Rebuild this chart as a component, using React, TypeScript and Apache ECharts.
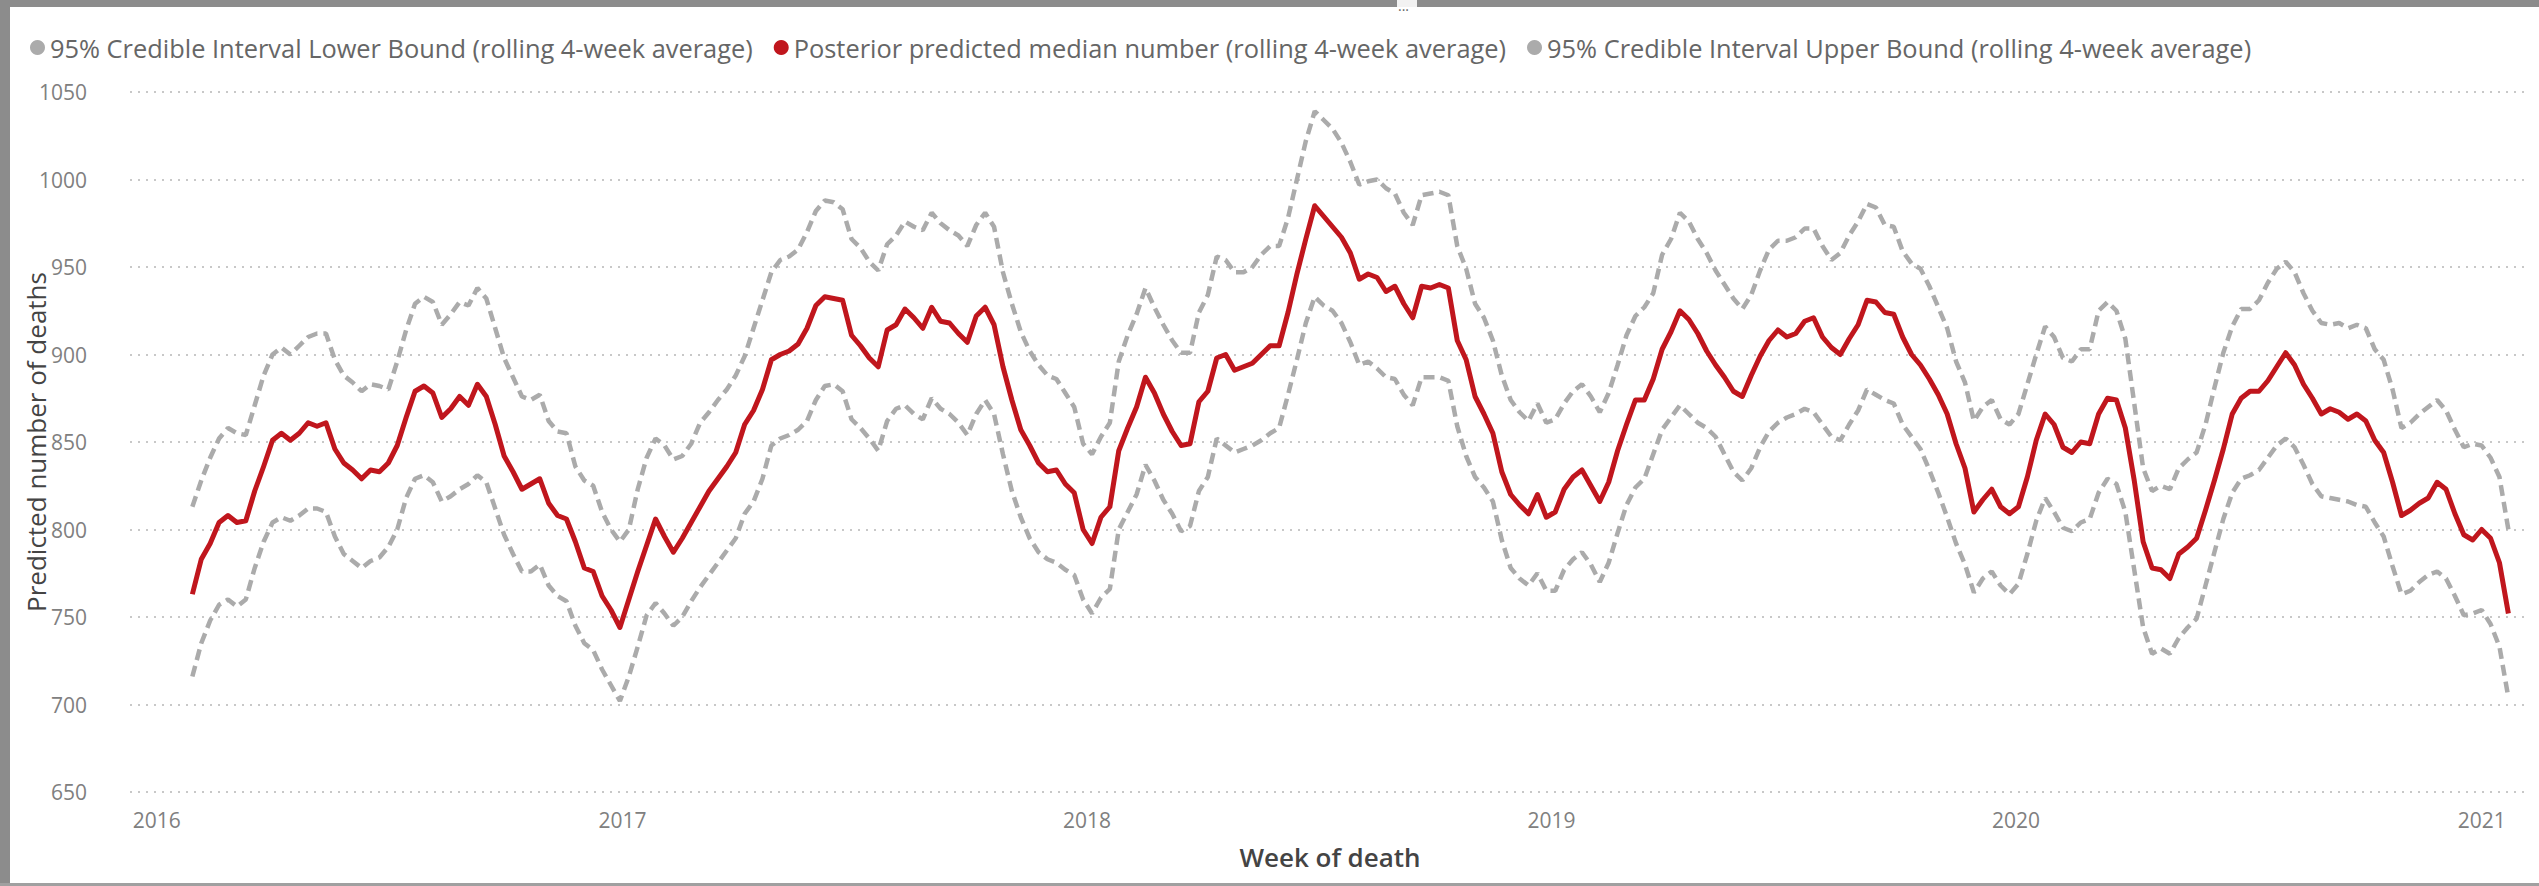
import React, { useEffect, useRef } from "react";
import * as echarts from "echarts";

// Weekly points: first week ending 2016-01-29, one value per week
const FIRST_WEEK = [2016, 0, 29];
const AXIS_START = [2015, 11, 11];
const AXIS_END = [2021, 1, 8];

const seriesNames = [
  "95% Credible Interval Lower Bound (rolling 4-week average)",
  "Posterior predicted median number (rolling 4-week average)",
  "95% Credible Interval Upper Bound (rolling 4-week average)",
];
const yTitle = "Predicted number of deaths";
const xTitle = "Week of death";
const yMin = 650;
const yMax = 1050;
const yStep = 50;

const lowerBound = [
  716, 735, 748, 757, 760, 756, 760, 778, 793, 804,
  807, 805, 808, 812, 812, 810, 796, 786, 782, 778,
  782, 784, 790, 800, 818, 829, 831, 827, 816, 819,
  823, 826, 831, 827, 812, 797, 786, 776, 776, 780,
  768, 762, 759, 745, 735, 731, 720, 711, 702, 716,
  733, 751, 758, 752, 745, 750, 759, 767, 774, 781,
  788, 795, 809, 816, 829, 848, 852, 854, 857, 862,
  874, 882, 883, 879, 863, 858, 852, 845, 862, 869,
  871, 866, 863, 875, 869, 866, 861, 854, 866, 874,
  866, 843, 822, 807, 795, 787, 783, 781, 777, 774,
  760, 752, 761, 766, 800, 810, 820, 837, 828, 817,
  809, 799, 802, 822, 830, 852, 848, 844, 846, 848,
  851, 855, 858, 877, 897, 918, 933, 928, 925, 918,
  907, 894, 896, 892, 887, 886, 877, 871, 887, 887,
  887, 885, 859, 842, 830, 824, 816, 794, 778, 772,
  768, 775, 765, 765, 777, 783, 787, 780, 770, 781,
  798, 814, 824, 829, 843, 857, 864, 871, 866, 861,
  858, 853, 843, 833, 828, 835, 847, 856, 861, 864,
  866, 869, 867, 860, 853, 851, 860, 868, 880, 877,
  874, 872, 860, 853, 846, 834, 821, 807, 792, 780,
  764, 772, 776, 768, 763, 769, 786, 805, 818, 810,
  801, 799, 804, 806, 821, 829, 826, 810, 777, 744,
  729, 732, 729, 738, 744, 749, 768, 787, 806, 821,
  829, 831, 834, 841, 848, 852, 847, 837, 826, 819,
  818, 817, 816, 814, 813, 804, 796, 779, 763, 765,
  770, 774, 776, 772, 762, 751, 752, 754, 746, 733,
  704,
];

const median = [
  763, 783, 792, 804, 808, 804, 805, 822, 836, 851,
  855, 851, 855, 861, 859, 861, 846, 838, 834, 829,
  834, 833, 838, 848, 864, 879, 882, 878, 864, 869,
  876, 871, 883, 876, 860, 842, 833, 823, 826, 829,
  815, 808, 806, 793, 778, 776, 762, 754, 744, 760,
  776, 791, 806, 796, 787, 795, 804, 813, 822, 829,
  836, 844, 860, 868, 880, 897, 900, 902, 906, 915,
  928, 933, 932, 931, 911, 905, 898, 893, 914, 917,
  926, 921, 915, 927, 919, 918, 912, 907, 922, 927,
  917, 893, 874, 857, 848, 838, 833, 834, 826, 821,
  800, 792, 807, 813, 845, 858, 870, 887, 878, 866,
  856, 848, 849, 873, 879, 898, 900, 891, 893, 895,
  900, 905, 905, 924, 946, 966, 985, 979, 973, 967,
  958, 943, 946, 944, 936, 939, 929, 921, 939, 938,
  940, 938, 908, 897, 876, 866, 855, 833, 820, 814,
  809, 820, 807, 810, 823, 830, 834, 825, 816, 827,
  845, 860, 874, 874, 886, 903, 913, 925, 920, 912,
  902, 894, 887, 879, 876, 888, 899, 908, 914, 910,
  912, 919, 921, 910, 904, 900, 909, 917, 931, 930,
  924, 923, 910, 900, 894, 886, 877, 866, 849, 835,
  810, 817, 823, 813, 809, 813, 830, 851, 866, 860,
  847, 844, 850, 849, 866, 875, 874, 858, 828, 793,
  778, 777, 772, 786, 790, 795, 811, 828, 846, 866,
  875, 879, 879, 885, 893, 901, 894, 883, 875, 866,
  869, 867, 863, 866, 862, 851, 844, 827, 808, 811,
  815, 818, 827, 823, 809, 797, 794, 800, 795, 781,
  752,
];

const upperBound = [
  813, 828, 841, 852, 858, 855, 854, 871, 888, 900,
  904, 900, 905, 910, 912, 912, 897, 888, 884, 879,
  883, 882, 880, 896, 914, 929, 933, 930, 917, 923,
  930, 928, 938, 932, 915, 898, 887, 876, 874, 877,
  862, 856, 855, 836, 828, 825, 810, 800, 793, 800,
  823, 841, 852, 848, 840, 842, 849, 861, 867, 874,
  880, 888, 899, 915, 931, 947, 954, 956, 960, 970,
  982, 988, 987, 983, 966, 961, 953, 948, 963, 968,
  976, 973, 971, 981, 975, 971, 968, 962, 974, 981,
  973, 947, 929, 913, 902, 894, 888, 886, 878, 870,
  849, 843, 853, 861, 896, 911, 923, 938, 927, 917,
  908, 901, 901, 924, 934, 956, 954, 947, 947, 950,
  957, 962, 962, 978, 1000, 1022, 1039, 1034, 1029, 1021,
  1010, 997, 999, 1000, 995, 992, 981, 974, 991, 992,
  993, 991, 962, 949, 929, 921, 908, 888, 874, 867,
  862, 872, 861, 863, 872, 879, 883, 876, 867, 878,
  894, 911, 922, 927, 935, 957, 966, 981, 976, 966,
  958, 948, 940, 932, 926, 934, 948, 960, 965, 965,
  967, 972, 972, 962, 954, 958, 968, 976, 986, 984,
  974, 973, 959, 952, 949, 939, 927, 915, 896, 884,
  862, 870, 874, 863, 860, 866, 883, 900, 916, 910,
  898, 896, 903, 903, 925, 930, 925, 909, 872, 835,
  822, 825, 823, 835, 840, 844, 860, 881, 901, 916,
  926, 926, 931, 941, 949, 953, 947, 935, 925, 918,
  917, 918, 915, 917, 915, 903, 897, 880, 858, 861,
  866, 870, 874, 868, 857, 847, 849, 848, 841, 830,
  800,
];

const GRAY = "#ABABAB";
const RED = "#C0161D";
const FONT = "'Open Sans', 'Noto Sans', sans-serif";

export default function App() {
  const ref = useRef<HTMLDivElement>(null);

  useEffect(() => {
    if (!ref.current) return;
    const chart = echarts.init(ref.current, null, { renderer: "svg" });
    const DAY = 86400000;
    const t0 = new Date(FIRST_WEEK[0], FIRST_WEEK[1], FIRST_WEEK[2]).getTime();
    const weeks = median.map((_, i) => t0 + i * 7 * DAY);
    const pairs = (arr: number[]) => arr.map((v, i) => [weeks[i], v]);

    const dashed = {
      color: GRAY,
      width: 4.5,
      type: [11, 6] as number[],
    };

    chart.setOption({
      animation: false,
      backgroundColor: "#ffffff",
      textStyle: { fontFamily: FONT },
      legend: {
        data: seriesNames,
        icon: "circle",
        itemWidth: 15,
        itemHeight: 15,
        itemGap: 21,
        left: 25,
        top: 30,
        textStyle: { color: "#666666", fontSize: 25.4, fontFamily: FONT },
      },
      grid: { left: 130, right: 9, top: 92, bottom: 94, outerBoundsMode: "none" },
      xAxis: {
        type: "time",
        min: new Date(AXIS_START[0], AXIS_START[1], AXIS_START[2]).getTime(),
        max: new Date(AXIS_END[0], AXIS_END[1], AXIS_END[2]).getTime(),
        minInterval: 365 * DAY,
        maxInterval: 366 * DAY,
        splitNumber: 5,
        axisLine: { show: false },
        axisTick: { show: false },
        splitLine: { show: false },
        axisLabel: {
          formatter: "{yyyy}",
          color: "#808080",
          fontSize: 21,
          fontFamily: FONT,
          margin: 17,
          showMinLabel: false,
          showMaxLabel: false,
        },
        name: xTitle,
        nameLocation: "middle",
        nameGap: 52,
        nameMoveOverlap: false,
        nameTextStyle: { color: "#444444", fontSize: 26, fontWeight: 600, fontFamily: FONT },
      },
      yAxis: {
        type: "value",
        min: yMin,
        max: yMax,
        interval: yStep,
        axisLine: { show: false },
        axisTick: { show: false },
        axisLabel: {
          color: "#808080",
          fontSize: 21,
          fontFamily: FONT,
          margin: 43,
          formatter: (v: number) => String(v),
        },
        splitLine: { lineStyle: { color: "#C8C8C8", width: 2, type: [2, 6] } },
        name: yTitle,
        nameLocation: "middle",
        nameGap: 81,
        nameRotate: 90,
        nameMoveOverlap: false,
        nameTextStyle: { color: "#444444", fontSize: 26, fontFamily: FONT },
      },
      series: [
        {
          name: seriesNames[0],
          type: "line",
          data: pairs(lowerBound),
          showSymbol: false,
          symbol: "none",
          itemStyle: { color: GRAY },
          lineStyle: dashed,
          z: 2,
        },
        {
          name: seriesNames[1],
          type: "line",
          data: pairs(median),
          showSymbol: false,
          symbol: "none",
          itemStyle: { color: RED },
          lineStyle: { color: RED, width: 5, join: "round" },
          z: 3,
        },
        {
          name: seriesNames[2],
          type: "line",
          data: pairs(upperBound),
          showSymbol: false,
          symbol: "none",
          itemStyle: { color: GRAY },
          lineStyle: dashed,
          z: 2,
        },
      ],
      graphic: [
        { type: "rect", left: 0, top: 0, shape: { width: 2539, height: 7 }, style: { fill: "#8C8C8C" }, z: 10 },
        { type: "rect", left: 1397, top: 0, shape: { width: 20, height: 7 }, style: { fill: "#F2F2F2" }, z: 11 },
        { type: "text", left: 1398, top: 2, style: { text: "···", fill: "#666666", fontSize: 14, fontFamily: FONT }, z: 11 },
        { type: "rect", left: 0, top: 0, shape: { width: 10, height: 886 }, style: { fill: "#8C8C8C" }, z: 10 },
        { type: "rect", left: 0, top: 883, shape: { width: 2539, height: 3 }, style: { fill: "#A0A0A0" }, z: 10 },
      ],
    });

    return () => chart.dispose();
  }, []);

  return (
    <div
      ref={ref}
      style={{ position: "absolute", left: 0, top: 0, width: 2539, height: 886, background: "#ffffff" }}
    />
  );
}
